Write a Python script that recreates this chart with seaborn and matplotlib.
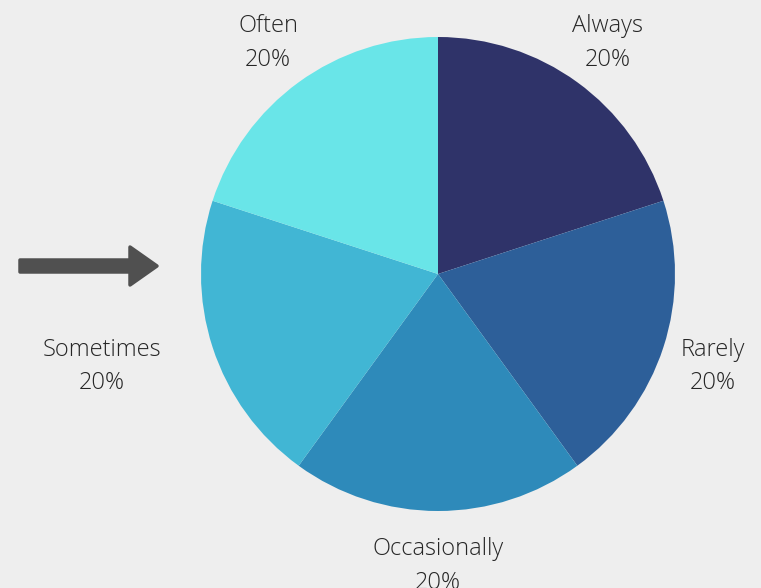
import matplotlib.pyplot as plt
import seaborn as sns
from matplotlib.patches import FancyArrow

# dados do gráfico
categorias = ['Always', 'Rarely', 'Occasionally', 'Sometimes', 'Often']
valores = [20, 20, 20, 20, 20]
cores = ['#2f3369', '#2d5f99', '#2e8aba', '#41b6d4', '#69e5e8']

sns.set_style('white')
plt.rcParams['font.family'] = ['Open Sans', 'DejaVu Sans']

fig = plt.figure(figsize=(7.61, 5.88), dpi=100, facecolor='#eeeeee')

# centro do pie em (438, 274) px, raio 237 px
raio_px = 237
lim = 1.3
lado = 2 * lim * raio_px
ax = fig.add_axes([(438 - lado / 2) / 761, (588 - 274 - lado / 2) / 588, lado / 761, lado / 588])
ax.set_facecolor('none')

rotulos = [f'{c}\n{v}%' for c, v in zip(categorias, valores)]
wedges, textos = ax.pie(valores, labels=rotulos, colors=cores, startangle=90, counterclock=False,
                        labeldistance=1.22, wedgeprops=dict(linewidth=0),
                        textprops=dict(fontsize=17, color='#262626', fontweight='light'))
for t in textos:
    t.set_ha('center')
    t.set_va('center')
    t.set_multialignment('center')
    t.set_linespacing(1.52)
    # pequeno ajuste vertical para bater com a referência
    t.set_y(t.get_position()[1] - 3 / raio_px)

# "Sometimes" fica mais afastado do pie na referência
textos[3].set_x(-336 / raio_px)

ax.set_xlim(-lim, lim)
ax.set_ylim(-lim, lim)
ax.axis('off')

# seta à esquerda
y_seta = (274 - 266) / raio_px
x0 = (20 - 438) / raio_px
x1 = (157 - 438) / raio_px
seta = FancyArrow(x0, y_seta, x1 - x0, 0, width=12 / raio_px, head_width=38 / raio_px,
                  head_length=27 / raio_px, length_includes_head=True, color='#505050',
                  linewidth=2.5, joinstyle='round', capstyle='round', clip_on=False)
ax.add_patch(seta)

fig.savefig('out.png', dpi=100, facecolor=fig.get_facecolor())
